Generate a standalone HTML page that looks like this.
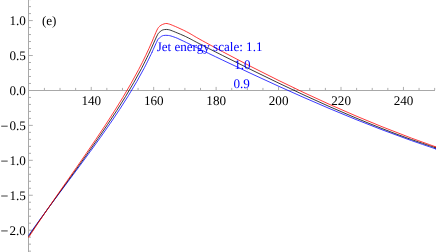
<!DOCTYPE html>
<html><head><meta charset="utf-8"><title>plot</title>
<style>
html,body{margin:0;padding:0;background:#fff;}
body{width:436px;height:252px;overflow:hidden;font-family:"Liberation Serif",serif;}
svg{display:block;will-change:transform;transform:translateZ(0);}
text{font-family:"Liberation Serif",serif;font-size:13.15px;text-rendering:geometricPrecision;}
</style></head><body>
<svg width="436" height="252" viewBox="0 0 436 252">
<rect width="436" height="252" fill="#fff"/>
<g fill="#a8a8a8" shape-rendering="crispEdges">
<rect x="28" y="0" width="1" height="252"/>
<rect x="28" y="90" width="407" height="1"/>
</g>
<path d="M44.41 90V87.90 M60.02 90V87.90 M75.63 90V87.90 M91.24 90V86.90 M106.85 90V87.90 M122.46 90V87.90 M138.07 90V87.90 M153.68 90V86.90 M169.29 90V87.90 M184.90 90V87.90 M200.51 90V87.90 M216.12 90V86.90 M231.73 90V87.90 M247.34 90V87.90 M262.95 90V87.90 M278.56 90V86.90 M294.17 90V87.90 M309.78 90V87.90 M325.39 90V87.90 M341.00 90V86.90 M356.61 90V87.90 M372.22 90V87.90 M387.83 90V87.90 M403.44 90V86.90 M419.05 90V87.90 M434.66 90V87.90 M29 251.15H31.00 M29 244.16H31.00 M29 237.18H31.00 M29 230.19H32.80 M29 223.20H31.00 M29 216.22H31.00 M29 209.23H31.00 M29 202.24H31.00 M29 195.25H32.80 M29 188.27H31.00 M29 181.28H31.00 M29 174.29H31.00 M29 167.31H31.00 M29 160.32H32.80 M29 153.33H31.00 M29 146.35H31.00 M29 139.36H31.00 M29 132.37H31.00 M29 125.39H32.80 M29 118.40H31.00 M29 111.41H31.00 M29 104.42H31.00 M29 97.44H31.00 M29 83.46H31.00 M29 76.48H31.00 M29 69.49H31.00 M29 62.50H31.00 M29 55.52H32.80 M29 48.53H31.00 M29 41.54H31.00 M29 34.55H31.00 M29 27.57H31.00 M29 20.58H32.80 M29 13.59H31.00 M29 6.61H31.00 M29 -0.38H31.00" stroke="#adadad" stroke-width="1" fill="none"/>
<g fill="none" stroke-width="0.78" stroke-linejoin="round">
<path d="M28.50 235.54 C30.16 233.20 35.11 226.20 38.48 221.54 C41.85 216.87 45.28 212.20 48.71 207.54 C52.15 202.87 55.62 198.20 59.09 193.54 C62.57 188.87 66.06 184.20 69.54 179.54 C73.02 174.87 76.51 170.20 79.96 165.54 C83.41 160.87 86.86 156.20 90.26 151.54 C93.66 146.87 97.04 142.20 100.35 137.54 C103.67 132.87 106.95 128.20 110.15 123.54 C113.34 118.87 116.49 114.20 119.55 109.54 C122.60 104.87 125.59 100.20 128.47 95.54 C131.35 90.87 134.14 86.20 136.82 81.54 C139.49 76.87 142.06 72.20 144.50 67.54 C146.94 62.87 150.16 56.13 151.43 53.54 C152.70 50.95 151.11 54.26 152.14 52.00 C153.17 49.74 156.42 42.28 157.60 40.00 C158.78 37.72 158.55 38.92 159.20 38.30 C159.85 37.68 160.78 36.77 161.50 36.30 C162.22 35.83 162.78 35.67 163.50 35.50 C164.22 35.33 165.00 35.31 165.80 35.30 C166.60 35.29 167.43 35.33 168.30 35.45 C169.17 35.57 169.52 35.54 171.00 36.00 C172.48 36.46 175.13 37.35 177.20 38.20 C179.27 39.05 181.27 40.08 183.40 41.10 C185.53 42.12 187.23 42.94 190.00 44.30 C192.77 45.66 194.00 46.35 200.00 49.25 C206.00 52.15 217.33 57.60 226.00 61.71 C234.67 65.83 243.33 69.93 252.00 73.97 C260.67 78.00 269.33 82.01 278.00 85.94 C286.67 89.87 295.33 93.76 304.00 97.57 C312.67 101.38 321.33 105.13 330.00 108.79 C338.67 112.45 347.33 116.04 356.00 119.54 C364.67 123.03 373.33 126.44 382.00 129.75 C390.67 133.05 399.33 136.26 408.00 139.36 C416.67 142.45 429.55 146.77 434.00 148.30 C438.45 149.83 434.58 148.49 434.70 148.53" stroke="#0000ff"/>
<path d="M28.50 236.52 C30.11 234.19 34.89 227.19 38.14 222.52 C41.39 217.85 44.70 213.19 48.01 208.52 C51.33 203.85 54.69 199.19 58.04 194.52 C61.39 189.85 64.77 185.19 68.14 180.52 C71.50 175.85 74.88 171.19 78.22 166.52 C81.57 161.85 84.91 157.19 88.21 152.52 C91.51 147.85 94.79 143.19 98.02 138.52 C101.25 133.85 104.44 129.19 107.57 124.52 C110.69 119.85 113.78 115.19 116.77 110.52 C119.77 105.85 122.71 101.19 125.55 96.52 C128.39 91.85 131.16 87.19 133.81 82.52 C136.47 77.85 139.04 73.19 141.49 68.52 C143.93 63.85 146.67 58.27 148.48 54.52 C150.30 50.77 150.85 49.32 152.37 46.00 C153.89 42.68 156.30 37.00 157.60 34.60 C158.90 32.20 159.40 32.35 160.20 31.60 C161.00 30.85 161.68 30.44 162.40 30.10 C163.12 29.76 163.82 29.66 164.50 29.55 C165.18 29.44 165.83 29.43 166.50 29.45 C167.17 29.47 167.75 29.49 168.50 29.65 C169.25 29.81 169.55 29.86 171.00 30.40 C172.45 30.94 175.03 32.00 177.20 32.90 C179.37 33.80 181.87 34.82 184.00 35.80 C186.13 36.77 187.33 37.38 190.00 38.75 C192.67 40.12 194.00 40.96 200.00 44.03 C206.00 47.10 217.33 52.84 226.00 57.19 C234.67 61.54 243.33 65.87 252.00 70.14 C260.67 74.41 269.33 78.64 278.00 82.79 C286.67 86.95 295.33 91.05 304.00 95.05 C312.67 99.06 321.33 103.00 330.00 106.83 C338.67 110.66 347.33 114.40 356.00 118.02 C364.67 121.64 373.33 125.16 382.00 128.54 C390.67 131.92 399.33 135.19 408.00 138.30 C416.67 141.40 429.55 145.67 434.00 147.19 C438.45 148.71 434.58 147.38 434.70 147.41" stroke="#000000"/>
<path d="M28.50 237.64 C30.04 235.31 34.60 228.31 37.71 223.64 C40.82 218.98 43.99 214.31 47.18 209.64 C50.37 204.98 53.60 200.31 56.84 195.64 C60.07 190.98 63.34 186.31 66.59 181.64 C69.85 176.98 73.12 172.31 76.37 167.64 C79.61 162.98 82.87 158.31 86.08 153.64 C89.30 148.98 92.50 144.31 95.66 139.64 C98.81 134.98 101.94 130.31 105.01 125.64 C108.08 120.98 111.11 116.31 114.06 111.64 C117.02 106.98 119.92 102.31 122.74 97.64 C125.55 92.98 128.30 88.31 130.95 83.64 C133.60 78.98 136.17 74.31 138.62 69.64 C141.07 64.98 143.46 60.25 145.67 55.64 C147.87 51.04 149.97 46.27 151.86 42.00 C153.75 37.73 155.71 32.62 157.00 30.00 C158.29 27.38 158.70 27.22 159.60 26.30 C160.50 25.38 161.38 24.97 162.40 24.50 C163.42 24.03 164.73 23.62 165.70 23.50 C166.67 23.38 167.32 23.60 168.20 23.80 C169.08 24.00 169.50 24.12 171.00 24.70 C172.50 25.28 175.13 26.39 177.20 27.30 C179.27 28.21 181.27 29.10 183.40 30.15 C185.53 31.20 187.23 32.06 190.00 33.60 C192.77 35.14 194.00 36.09 200.00 39.40 C206.00 42.72 217.33 48.87 226.00 53.48 C234.67 58.09 243.33 62.63 252.00 67.07 C260.67 71.51 269.33 75.87 278.00 80.14 C286.67 84.40 295.33 88.58 304.00 92.66 C312.67 96.74 321.33 100.73 330.00 104.62 C338.67 108.50 347.33 112.29 356.00 115.98 C364.67 119.66 373.33 123.25 382.00 126.72 C390.67 130.19 399.33 133.56 408.00 136.81 C416.67 140.07 429.55 144.63 434.00 146.24 C438.45 147.85 434.58 146.44 434.70 146.48" stroke="#ff0000"/>
</g>
<text x="91.34" y="104.55" text-anchor="middle">140</text>
<text x="153.78" y="104.55" text-anchor="middle">160</text>
<text x="216.22" y="104.55" text-anchor="middle">180</text>
<text x="278.66" y="104.55" text-anchor="middle">200</text>
<text x="341.10" y="104.55" text-anchor="middle">220</text>
<text x="403.54" y="104.55" text-anchor="middle">240</text>
<text x="25.9" y="25.03" text-anchor="end">1.0</text>
<text x="25.9" y="59.97" text-anchor="end">0.5</text>
<text x="25.9" y="94.90" text-anchor="end">0.0</text>
<text x="25.9" y="129.84" text-anchor="end">0.5</text>
<rect x="1.2" y="125.77" width="6.5" height="0.75" fill="#000"/>
<text x="25.9" y="164.77" text-anchor="end">1.0</text>
<rect x="1.2" y="160.70" width="6.5" height="0.75" fill="#000"/>
<text x="25.9" y="199.70" text-anchor="end">1.5</text>
<rect x="1.2" y="195.63" width="6.5" height="0.75" fill="#000"/>
<text x="25.9" y="234.64" text-anchor="end">2.0</text>
<rect x="1.2" y="230.57" width="6.5" height="0.75" fill="#000"/>
<text x="41.9" y="24.8">(e)</text>
<g fill="#0000ff">
<text x="156.65" y="50.65" style="font-size:13.08px">Jet energy scale: 1.1</text>
<text x="234.2" y="69.2">1.0</text>
<text x="233.5" y="87.8">0.9</text>
</g>
</svg></body></html>
